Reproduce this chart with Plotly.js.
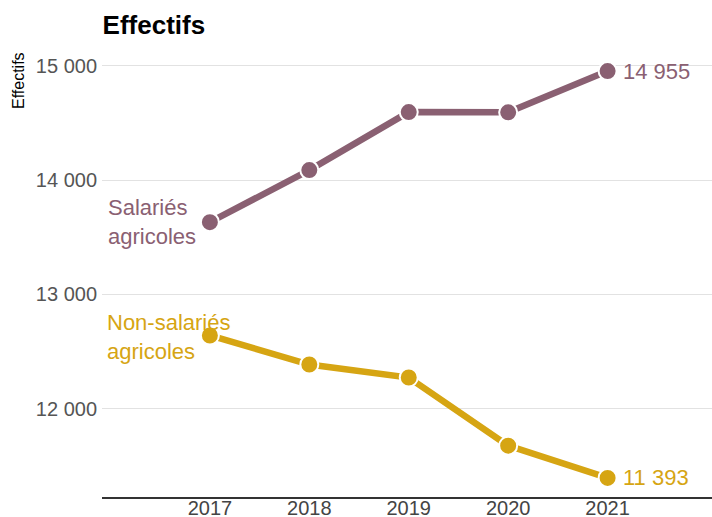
<!DOCTYPE html>
<html>
<head>
<meta charset="utf-8">
<script src="https://cdn.plot.ly/plotly-3.0.1.min.js"></script>
<style>html,body{margin:0;padding:0;background:#fff;}#chart{width:712px;height:517px;}</style>
</head>
<body>
<div id="chart"></div>
<script>
const years = [2017, 2018, 2019, 2020, 2021];
const salaries = [13632, 14088, 14596, 14594, 14955];
const nonSalaries = [12640, 12386, 12272, 11675, 11393];
const seriesNames = ["Salariés<br>agricoles", "Non-salariés<br>agricoles"];
const colSal = "#8a6072";
const colNon = "#d6a513";
const font = "Liberation Sans, Arial, sans-serif";

function trace(y, color) {
  return {
    x: years, y: y, type: "scatter", mode: "lines+markers",
    line: {color: color, width: 6.5},
    marker: {color: color, size: 18, line: {color: "#fff", width: 2}},
    hoverinfo: "skip", showlegend: false, cliponaxis: false
  };
}
const fmt = v => String(v).replace(/\B(?=(\d{3})+(?!\d))/g, " ");

const layout = {
  width: 712, height: 517,
  margin: {l: 102, r: 0, t: 40, b: 20},
  paper_bgcolor: "#fff", plot_bgcolor: "#fff",
  separators: ", ",
  font: {family: font},
  title: {text: "<b>Effectifs</b>", x: 0.001, xref: "paper", xanchor: "left", y: 0.952, yanchor: "middle",
          font: {size: 26, color: "#000", family: font}},
  xaxis: {range: [2015.915, 2022.05], tickvals: years, ticktext: years.map(String),
          showgrid: false, zeroline: false, showline: true, linecolor: "#333", linewidth: 1.5,
          ticks: "", ticklabelstandoff: -8, tickfont: {size: 20, color: "#444"}},
  yaxis: {range: [11226, 15227], tickvals: [12000, 13000, 14000, 15000], tickformat: ",d",
          showgrid: true, gridcolor: "#e2e2e2", gridwidth: 1, zeroline: false, showline: false,
          ticks: "", ticklabelstandoff: 4, tickfont: {size: 20, color: "#555"}},
  annotations: [
    {text: "Effectifs", xref: "paper", yref: "paper", x: -0.138, y: 0.912, xanchor: "center", yanchor: "middle",
     textangle: -90, showarrow: false, font: {size: 16, color: "#000"}},
    {text: seriesNames[0], x: years[0], y: salaries[0], xref: "x", yref: "y", xanchor: "left", yanchor: "middle",
     xshift: -104, yshift: 0, align: "left", showarrow: false, font: {size: 22, color: colSal}},
    {text: seriesNames[1], x: years[0], y: nonSalaries[0], xref: "x", yref: "y", xanchor: "left", yanchor: "middle",
     xshift: -105, yshift: -2, align: "left", showarrow: false, font: {size: 22, color: colNon}},
    {text: fmt(salaries[4]), x: years[4], y: salaries[4], xref: "x", yref: "y", xanchor: "left", yanchor: "middle",
     xshift: 13, showarrow: false, font: {size: 22, color: colSal}},
    {text: fmt(nonSalaries[4]), x: years[4], y: nonSalaries[4], xref: "x", yref: "y", xanchor: "left", yanchor: "middle",
     xshift: 13, showarrow: false, font: {size: 22, color: colNon}}
  ]
};
Plotly.newPlot("chart", [trace(salaries, colSal), trace(nonSalaries, colNon)], layout, {displayModeBar: false, staticPlot: true});
</script>
</body>
</html>
